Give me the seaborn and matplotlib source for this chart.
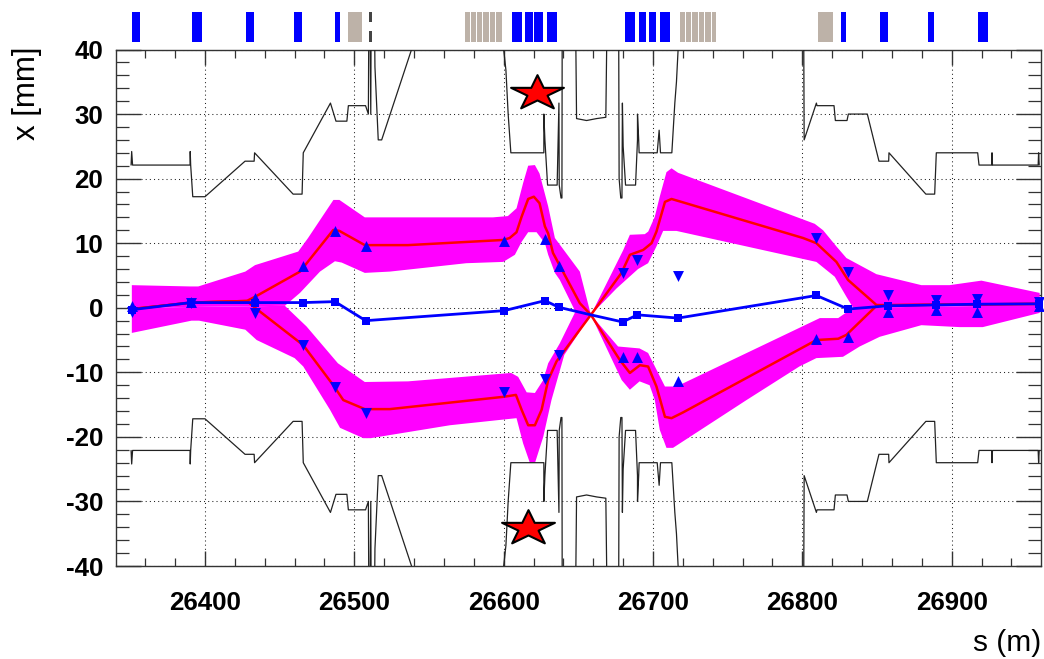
import matplotlib
matplotlib.use("Agg")
import matplotlib.pyplot as plt
import seaborn as sns
from matplotlib.path import Path
from matplotlib.ticker import MultipleLocator

# aperture, upper side (60 = off the scale)
ap_up_s = [26350.5, 26350.9, 26351.5, 26390, 26390.1, 26390.4, 26391.8, 26400, 26426.8, 26432.9, 26433.2, 26459, 26465,
           26465.8, 26484, 26487.7, 26495, 26496, 26507.5, 26509.4, 26510, 26511, 26511.5, 26512.8, 26513.8, 26516,
           26518.3, 26538.3, 26541, 26598, 26600, 26601.5, 26603, 26604.8, 26626.9, 26626.9, 26627.6, 26629.4,
           26635.8, 26637, 26637.2, 26638.4, 26639, 26639.3, 26647.5, 26648.8, 26655.5, 26662.2, 26668.4, 26670,
           26676.8, 26677.3, 26678.4, 26679.2, 26679.5, 26680, 26681.6, 26688.3, 26689.6, 26689.6, 26690.4, 26690.7,
           26702.8, 26704.1, 26705, 26712.6, 26714.6, 26715.7, 26716.8, 26717.5, 26798.5, 26800.6, 26801.2, 26809.4,
           26809.8, 26821.2, 26822.1, 26829.9, 26830.8, 26843.5, 26851.3, 26857.8, 26858, 26882.7, 26888.6, 26889.7,
           26917.4, 26918.3, 26926.8, 26927, 26927.3, 26957.9, 26958.2, 26958.6]
ap_up_y = [22.1, 24.2, 22.1, 22.1, 24.2, 22.1, 17.2, 17.2, 22.7, 22.7, 24, 17.6, 17.6,
           24, 31.7, 28.9, 28.9, 31.3, 31.3, 30, 60, 30, 60, 60, 37.3, 26,
           26, 40, 60, 60, 40, 36.8, 30, 24, 24, 30, 26, 19,
           19, 31.7, 19, 17, 17, 60, 60, 29.3, 29, 29.3, 29.5, 60,
           60, 20, 17, 17, 31.7, 25, 19, 19, 26, 30, 26, 24,
           24, 27.5, 24, 24, 31.7, 35, 40, 60, 60, 60, 26, 31.7,
           31.3, 31.3, 29, 29, 30, 30, 22.7, 22.7, 24, 17.6, 17.6, 24,
           24, 22.1, 22.1, 24, 22.1, 22.1, 24, 22.1]
# aperture, lower side
ap_lo_y = [-22.1, -24.2, -22.1, -22.1, -24.2, -22.1, -17.2, -17.2, -22.7, -22.7, -24, -17.6, -17.6,
           -24, -31.7, -28.9, -28.9, -31.3, -31.3, -30, -60, -30, -60, -60, -37.3, -26,
           -26, -40, -60, -60, -40, -36.8, -30, -24, -24, -30, -26, -19,
           -19, -31.7, -19, -17, -17, -60, -60, -29.3, -29, -29.3, -29.5, -60,
           -60, -20, -17, -17, -31.7, -25, -19, -19, -26, -30, -26, -24,
           -24, -27.5, -24, -24, -31.7, -35, -40, -60, -60, -60, -26, -31.7,
           -31.3, -31.3, -29, -29, -30, -30, -22.7, -22.7, -24, -17.6, -17.6, -24,
           -24, -22.1, -22.1, -24, -22.1, -22.1, -24, -22.1]

# red beam edges
red_up_s = [26351, 26391, 26428, 26433.5, 26463.6, 26485.9, 26490, 26507, 26535.9, 26599.7, 26604, 26608.6, 26612,
            26616.4, 26620.2, 26624, 26627.6, 26629.8, 26633, 26651, 26658.4, 26678.9, 26684.5, 26693.4, 26699,
            26702.3, 26708, 26712.4, 26800.5, 26809.4, 26822.8, 26830.6, 26849.6, 26857.3, 26958]
red_up_y = [-0.2, 0.8, 1.05, 1.7, 5.6, 12.05, 11.9, 9.7, 9.7, 10.5, 10.8, 11.7, 14.1,
            16.85, 17.2, 16.2, 12.6, 11.5, 8.5, 0.7, -1.1, 5.4, 8.2, 8.95, 10,
            11.8, 16.4, 16.85, 10.8, 10, 7.1, 4.3, 0.43, 0.4, 0.6]
red_lo_s = [26351, 26391, 26428, 26433.5, 26465.8, 26485.9, 26492.6, 26507, 26523.8, 26599.7, 26608.2, 26612, 26616.4,
            26620.9, 26625.4, 26629.8, 26635.4, 26651, 26658.4, 26677.8, 26684.5, 26691.2, 26696.7, 26702.3, 26708,
            26712.4, 26720.2, 26809.4, 26824, 26829.5, 26849.6, 26857.3, 26958]
red_lo_y = [-0.2, 0.8, 1.05, 0, -5.8, -12, -14.3, -15.7, -15.7, -13.8, -13.5, -15.8, -18.2,
            -18.2, -15.8, -11.2, -8.3, -3.4, -1.1, -8.1, -10.1, -8.9, -9.1, -12.2, -16.9,
            -17.1, -16.2, -5, -4.8, -4.2, 0.3, 0.4, 0.6]

# magenta envelope, two polygons going out along the outer edge and back along the inner edge
band_up_s = [26351, 26390, 26395.5, 26427, 26433.5, 26462.4, 26469, 26486, 26490, 26507, 26592.8, 26602.8, 26608.6, 26613,
             26616.4, 26620.9, 26624, 26629.8, 26634.3, 26651, 26658.4, 26680, 26684.5, 26694.5, 26696.8, 26701.2,
             26704.5, 26709, 26712.4, 26716.8, 26808.3, 26813.9, 26822.8, 26829.5, 26849.6, 26879.7, 26898.6, 26919.9,
             26958.9, 26958.9, 26834, 26829.5, 26821.7, 26809.4, 26715.7, 26706.8, 26702.3, 26696.7, 26690, 26675.6,
             26658.4, 26651, 26637.6, 26634.3, 26629.8, 26627.6, 26622, 26616.4, 26612, 26607.5, 26599.7, 26575,
             26523.8, 26507, 26491.5, 26487, 26477, 26463.6, 26453.5, 26351]
band_up_y = [3.5, 3.3, 3.3, 5.6, 6.6, 8.7, 10.8, 16.7, 16.7, 14, 14, 14.2, 15.4, 19.3,
             22, 22.1, 20.8, 15.7, 10.8, 5.6, -1.1, 8.9, 11.3, 11.4, 11.8, 14.1,
             17.2, 21, 21.6, 20.9, 13, 12, 9.5, 7.7, 5.2, 3.5, 3.5, 4.2,
             2.3, 0.4, 0, 1.7, 4.8, 7.1, 11.9, 11.9, 9.5, 6.9, 6, 3,
             -1.1, -2, 4.3, 5.4, 8.2, 10, 11.7, 11.7, 10.2, 8.2, 7.1, 6.9,
             5.6, 5.4, 7, 7.2, 5.6, 2.3, 0.3, 0]
band_lo_s = [26351, 26391, 26396, 26427, 26434.6, 26460, 26465.8, 26483.7, 26490.4, 26506, 26511, 26564, 26608.6, 26613,
             26617.5, 26621, 26626.5, 26632, 26640.6, 26658.4, 26679, 26684.5, 26691, 26697.7, 26701.2, 26704.5,
             26709, 26713.4, 26762.6, 26798, 26809.4, 26827.2, 26838.4, 26851.8, 26879.7, 26905.4, 26920.8, 26958.9,
             26958.9, 26834, 26824, 26811.7, 26715.7, 26708, 26696.7, 26691, 26676.6, 26658.4, 26651, 26637.6, 26629.8,
             26626.5, 26620.9, 26615.4, 26609.7, 26605, 26536, 26507, 26489, 26468, 26453.5, 26351]
band_lo_y = [-3.9, -2, -2, -3.4, -5, -7.8, -9.1, -15.8, -18.6, -20.2, -20.2, -18.2, -17.1, -21,
             -24, -24, -20, -14.3, -7.3, -1.1, -11.2, -12.7, -11.4, -12, -14.3, -18.9,
             -21.7, -21.7, -14.3, -9.1, -7.8, -7.6, -6, -4.5, -2.7, -3, -3, -0.8,
             0.4, 0, -1.6, -1.6, -12.2, -12.2, -7, -6.3, -6, -1.1, 0.8, -5.5, -8.6,
             -11.2, -13.2, -13.1, -10.7, -10.1, -11.4, -11.5, -8.6, -2.9, 0.3, 0]

# blue centre line and its measured points
centre_s = [26351, 26390.4, 26433.5, 26465.8, 26487, 26507.6, 26600.3, 26627.6, 26637, 26658.4, 26679.6, 26689.6,
            26716.8, 26809.4, 26830.6, 26857.3, 26889.7, 26917.1, 26958.4]
centre_y = [-0.3, 0.8, 0.8, 0.8, 0.95, -2, -0.45, 1.1, 0.07, -1.1, -2.2, -1.1, -1.6, 1.9, -0.2, 0.3, 0.43, 0.55, 0.6]
pts_s = [26351, 26390.4, 26433.5, 26465.8, 26487, 26507.6, 26600.3, 26627.6, 26637, 26679.6, 26689.6,
         26716.8, 26809.4, 26830.6, 26857.3, 26889.7, 26917.1, 26958.4]
pts_y = [-0.3, 0.8, 0.8, 0.8, 0.95, -2, -0.45, 1.1, 0.07, -2.2, -1.1, -1.6, 1.9, -0.2, 0.3, 0.43, 0.55, 0.6]
# triangles
up_s = [26351, 26390.4, 26433.5, 26465.8, 26487, 26507.6, 26600.3, 26627.6, 26637, 26679.6, 26689.6, 26716.8,
        26809.4, 26830.6, 26857.3, 26889.7, 26917.1, 26958.4]
up_y = [0.2, 0.9, 1.5, 6.4, 11.9, 9.6, 10.3, 10.7, 6.5, -7.6, -7.6, -11.3, -4.8, -4.6, -0.6, -0.35, -0.6, 0.2]
down_s = [26351, 26390.4, 26433.5, 26465.8, 26487, 26507.6, 26600.3, 26627.6, 26637, 26679.6, 26689.6, 26716.8,
          26809.4, 26830.6, 26857.3, 26889.7, 26917.1, 26958.4]
down_y = [-0.6, 0.7, -0.8, -5.8, -12.2, -16.3, -13, -11, -7.3, 5.4, 7.4, 4.9, 10.8, 5.6, 1.9, 1.2, 1.3, 0.95]

star_s = [26622, 26616]
star_y = [33.2, -34.1]

# element strip above the plot
blue_start = [26351.3, 26391.1, 26427.4, 26459.4, 26487.2, 26605.3, 26614.2, 26620.4, 26628.7, 26681.1, 26690.3,
              26697.2, 26704.5, 26825.9, 26852, 26884, 26917.9]
blue_end = [26356.7, 26397.8, 26432.6, 26464.7, 26490.6, 26612, 26619.3, 26626.4, 26635.4, 26687.8, 26695.4,
            26702.3, 26711.2, 26829.5, 26857.3, 26888.4, 26924.6]
tan_start = [26495.7, 26574, 26578.2, 26582.3, 26586.3, 26590.8, 26594.6, 26717.9, 26722.2, 26726.4, 26730.7,
             26734.9, 26739.2, 26810.8]
tan_end = [26504.9, 26577.5, 26581.6, 26585.6, 26590, 26594, 26598.6, 26721.4, 26725.7, 26730, 26734.2,
           26738.5, 26742.5, 26820.8]

sns.set_theme(style="ticks")
plt.rcParams['font.family'] = ['Liberation Sans', 'DejaVu Sans']
plt.rcParams['axes.unicode_minus'] = False

W, H = 1044, 659
fig = plt.figure(figsize=(W / 100, H / 100), dpi=100)
ax = fig.add_axes([115.7 / W, 1 - 566 / H, 925.3 / W, 516.5 / H])
strip = fig.add_axes([115.7 / W, 1 - 42.3 / H, 925.3 / W, 30 / H])

ax.set_xlim(26340.2, 26959.8)
ax.set_ylim(-40, 40)
ax.set_axisbelow(True)
ax.grid(True, which='major', color='#222222', lw=0.75, ls=(0, (1, 3)))

ax.fill(band_up_s, band_up_y, color='#ff00ff', lw=0, zorder=2)
ax.fill(band_lo_s, band_lo_y, color='#ff00ff', lw=0, zorder=2)

sns.lineplot(x=ap_up_s, y=ap_up_y, sort=False, estimator=None, color='#222222', lw=0.9, ax=ax, zorder=3)
sns.lineplot(x=ap_up_s, y=ap_lo_y, sort=False, estimator=None, color='#222222', lw=0.9, ax=ax, zorder=3)
sns.lineplot(x=red_up_s, y=red_up_y, sort=False, estimator=None, color='#ff0000', lw=1.8, ax=ax, zorder=4)
sns.lineplot(x=red_lo_s, y=red_lo_y, sort=False, estimator=None, color='#ff0000', lw=1.8, ax=ax, zorder=4)
sns.lineplot(x=centre_s, y=centre_y, sort=False, estimator=None, color='#0000ff', lw=2, ax=ax, zorder=5)

sns.scatterplot(x=pts_s, y=pts_y, marker='s', s=26, color='#0000ff', linewidth=0, ax=ax, zorder=6, clip_on=False)
sns.scatterplot(x=up_s, y=up_y, marker='^', s=62, color='#0000ff', linewidth=0, ax=ax, zorder=6, clip_on=False)
sns.scatterplot(x=down_s, y=down_y, marker='v', s=62, color='#0000ff', linewidth=0, ax=ax, zorder=6, clip_on=False)

# the stars in the original are squashed, wider than tall
star = Path.unit_regular_star(5, 0.38)
star = Path(star.vertices * [1, 0.66], star.codes)
ax.scatter(star_s, star_y, marker=star, s=1450, color='#ff0000', edgecolor='black', linewidth=1.5, zorder=7)

ax.xaxis.set_major_locator(MultipleLocator(100))
ax.xaxis.set_minor_locator(MultipleLocator(20))
ax.yaxis.set_major_locator(MultipleLocator(10))
ax.yaxis.set_minor_locator(MultipleLocator(2))
ax.tick_params(axis='x', which='major', direction='in', length=11, width=1, top=True, bottom=True, color='#333333', pad=18)
ax.tick_params(axis='x', which='minor', direction='in', length=5.5, width=0.9, top=True, bottom=True, color='#333333')
ax.tick_params(axis='y', which='major', direction='in', length=18, width=1, left=True, right=True, color='#333333', pad=9)
ax.tick_params(axis='y', which='minor', direction='in', length=9.5, width=0.9, left=True, right=True, color='#333333')
for lab in ax.get_xticklabels() + ax.get_yticklabels():
    lab.set_fontsize(18.6)
    lab.set_fontweight('bold')
    lab.set_color('black')
for side in ax.spines.values():
    side.set_linewidth(1)
    side.set_color('#333333')

fig.text(27 / W, 1 - 93 / H, 'x [mm]', rotation=90, ha='center', va='center', fontsize=22.5, color='black')
fig.text(1041 / W, 1 - 643 / H, 's (m)', ha='right', va='center', fontsize=21.5, color='black')

# top strip
strip.set_xlim(ax.get_xlim())
strip.set_ylim(0, 1)
strip.axis('off')
for a, b in zip(blue_start, blue_end):
    strip.bar(a, 1, width=b - a, align='edge', bottom=0, color='#0000ff', lw=0)
for a, b in zip(tan_start, tan_end):
    strip.bar(a, 1, width=b - a, align='edge', bottom=0, color='#bdb2a8', lw=0)
strip.bar(26510, 0.33, width=1.6, align='edge', bottom=0.67, color='#444444', lw=0)
strip.bar(26510, 0.38, width=1.6, align='edge', bottom=0, color='#444444', lw=0)

fig.savefig('out.png', dpi=100)
